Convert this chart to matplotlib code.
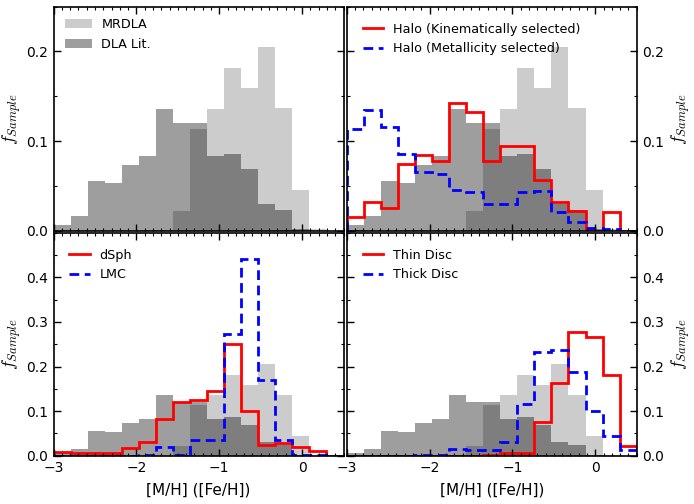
import numpy as np
import matplotlib
matplotlib.use("Agg")
import matplotlib.pyplot as plt
from matplotlib.lines import Line2D
from matplotlib.ticker import MultipleLocator

plt.rcParams['mathtext.fontset'] = 'cm'
plt.rcParams['font.family'] = ['DejaVu Sans']

# ---- data ----
bin_edges = np.linspace(-3.0, 0.5, 18)

mrdla = [0, 0, 0, 0, 0, 0, 0, 0.022, 0.113, 0.136, 0.182, 0.159, 0.205, 0.137, 0.045, 0.002, 0]
dla_lit = [0.006, 0.016, 0.056, 0.053, 0.073, 0.083, 0.136, 0.120, 0.120, 0.083, 0.086, 0.069,
           0.030, 0.023, 0.002, 0, 0]

halo_kin = [0.015, 0.032, 0.025, 0.074, 0.084, 0.078, 0.142, 0.132, 0.078, 0.095, 0.095, 0.057,
            0.032, 0.022, 0.0, 0.021, 0.0]
halo_met = [0.114, 0.135, 0.116, 0.086, 0.065, 0.063, 0.045, 0.043, 0.030, 0.030, 0.043, 0.044,
            0.021, 0.010, 0.003, 0.0015, 0.0]

dsph = [0.009, 0.005, 0.007, 0.007, 0.017, 0.030, 0.083, 0.121, 0.125, 0.144, 0.251, 0.101,
        0.024, 0.028, 0.020, 0.010, 0.0]
lmc = [0, 0, 0, 0, 0, 0.001, 0.0185, 0.002, 0.036, 0.036, 0.272, 0.441, 0.170, 0.036,
       0.0015, 0.001, 0]

thin_disc = [0, 0, 0, 0, 0, 0, 0, 0, 0.001, 0.007, 0.007, 0.076, 0.163, 0.278, 0.267, 0.181, 0.022]
thick_disc = [0, 0, 0, 0, 0.001, 0.002, 0.016, 0.013, 0.013, 0.031, 0.115, 0.233, 0.237, 0.187,
              0.101, 0.044, 0.013]

panels = [
    (None, None, None, None),
    ("Halo (Kinematically selected)", halo_kin, "Halo (Metallicity selected)", halo_met),
    ("dSph", dsph, "LMC", lmc),
    ("Thin Disc", thin_disc, "Thick Disc", thick_disc),
]

W, H = 694, 504
fig = plt.figure(figsize=(W / 100, H / 100), dpi=100)

def rect(x0, y0, x1, y1):
    return [x0 / W, 1 - y1 / H, (x1 - x0) / W, (y1 - y0) / H]

rects = [rect(53.5, 6.7, 343.5, 230.7), rect(346.7, 6.7, 636.7, 230.7),
         rect(53.5, 232.7, 343.5, 455.7), rect(346.7, 232.7, 636.7, 455.7)]

DASH = (0, (3.5, 2.0))
LEGFS = 9.2
LW = 2.0

for i, (lab1, v1, lab2, v2) in enumerate(panels):
    ax = fig.add_axes(rects[i])
    ax.stairs(mrdla, bin_edges, fill=True, color='grey', alpha=0.4, lw=0, label='MRDLA')
    ax.stairs(dla_lit, bin_edges, fill=True, color='k', alpha=0.38, lw=0, label='DLA Lit.')
    if v1 is not None:
        ax.stairs(v1, bin_edges, color='r', lw=LW, baseline=0)
        ax.stairs(v2, bin_edges, color='b', lw=LW, linestyle=DASH, baseline=0)
        handles = [Line2D([], [], color='r', lw=LW),
                   Line2D([], [], color='b', lw=LW, linestyle=DASH)]
        ax.legend(handles, [lab1, lab2], loc='upper left', frameon=False, fontsize=LEGFS,
                  handlelength=1.6, handletextpad=0.75, borderaxespad=0.5, borderpad=0.75,
                  labelspacing=0.5)
    else:
        ax.legend(loc='upper left', frameon=False, fontsize=LEGFS, handlelength=2.1,
                  handletextpad=0.75, borderaxespad=0.5, borderpad=0.4, labelspacing=0.5)

    ax.set_xlim(-3, 0.5)
    top = i < 2
    ax.set_ylim(0, 0.25 if top else 0.5)
    ax.xaxis.set_major_locator(MultipleLocator(1))
    ax.xaxis.set_minor_locator(MultipleLocator(0.1))
    ax.yaxis.set_major_locator(MultipleLocator(0.1))
    ax.yaxis.set_minor_locator(MultipleLocator(0.05))
    ax.tick_params(which='both', direction='in', top=True, right=True, labelsize=10)
    ax.tick_params(which='major', length=5, width=1, pad=4)
    ax.tick_params(which='minor', length=2.5, width=0.8)
    if top:
        ax.set_yticks([0, 0.1, 0.2])
        ax.set_yticklabels(['0.0', '0.1', '0.2'])
        ax.tick_params(labelbottom=False)
    else:
        ax.set_yticks([0, 0.1, 0.2, 0.3, 0.4])
        ax.set_yticklabels(['0.0', '0.1', '0.2', '0.3', '0.4'])
        ax.set_xticks([-3, -2, -1, 0])
        ax.set_xticklabels(['\u22123', '\u22122', '\u22121', '0'])
        ax.set_xlabel('[M/H] ([Fe/H])', fontsize=11, labelpad=5)
    if i % 2 == 1:
        ax.tick_params(labelleft=False, labelright=True)
        ax.yaxis.set_label_position('right')
        ax.set_ylabel('$f_{Sample}$', fontsize=13, labelpad=4)
    else:
        ax.set_ylabel('$f_{Sample}$', fontsize=13, labelpad=2)
    for s in ax.spines.values():
        s.set_linewidth(1.2)

fig.savefig('out.png', dpi=100)
